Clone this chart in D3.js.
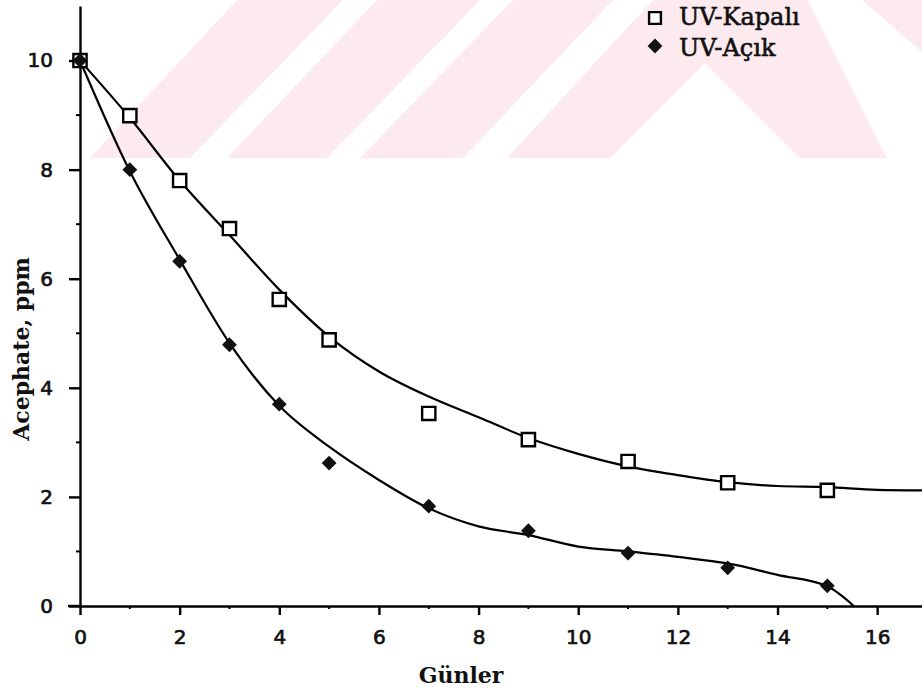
<!DOCTYPE html>
<html>
<head>
<meta charset="utf-8">
<script src="https://cdn.jsdelivr.net/npm/d3@7"></script>
<style>
  html, body { margin: 0; padding: 0; background: #fff; }
  svg { display: block; }
</style>
</head>
<body>
<div id="chart"></div>
<script>
// Measured points (days, ppm)
const days = [0, 1, 2, 3, 4, 5, 7, 9, 11, 13, 15];
const kapaliPts = [10, 8.99, 7.8, 6.92, 5.62, 4.88, 3.53, 3.05, 2.65, 2.26, 2.12];
const acikPts   = [10, 8.0, 6.32, 4.79, 3.70, 2.62, 1.83, 1.38, 0.97, 0.70, 0.37];

// Fitted curves
const kapaliFitX = [0, 1, 2, 3, 4, 5, 6, 7, 8, 9, 10, 11, 12, 13, 14, 15, 16, 17];
const kapaliFitY = [10, 8.95, 7.8, 6.8, 5.8, 4.94, 4.3, 3.84, 3.46, 3.08, 2.79, 2.56, 2.4, 2.27, 2.2, 2.18, 2.13, 2.12];
const acikFitX = [0, 1, 2, 3, 4, 5, 6, 7, 8, 9, 10, 11, 12, 13, 14, 15, 15.53];
const acikFitY = [10, 7.97, 6.35, 4.82, 3.67, 2.92, 2.31, 1.79, 1.46, 1.3, 1.09, 1.0, 0.9, 0.78, 0.57, 0.36, 0];

const xTicks = [0, 2, 4, 6, 8, 10, 12, 14, 16];
const xMinor = [1, 3, 5, 7, 9, 11, 13, 15];
const yTicks = [0, 2, 4, 6, 8, 10];
const yMinor = [1, 3, 5, 7, 9];
const legendLabels = ['UV-Kapalı', 'UV-Açık'];

const W = 922, H = 692;
const svg = d3.select('#chart').append('svg').attr('width', W).attr('height', H);

// faded watermark behind the plot (clipped band at the top)
const pink = '#fdeaee';
const marks = [
  [[90, 158], [190, 158], [343, 0], [237, 0]],
  [[227, 158], [327, 158], [480, 0], [377, 0]],
  [[360, 158], [463, 158], [613, 0], [513, 0]],
  [[507, 158], [653, 0], [808, 0], [887, 158], [800, 158], [705, 63], [610, 158]],
  [[862, 0], [922, 0], [922, 52]]
];
svg.append('g').selectAll('polygon').data(marks).join('polygon')
  .attr('points', (d) => d.map((p) => p.join(',')).join(' '))
  .attr('fill', pink);

const x = d3.scaleLinear().domain([0, 16.9]).range([80, 922]);
const y = d3.scaleLinear().domain([0, 11]).range([606, 6]);

const tickFont = "'DejaVu Sans', sans-serif";
const ink = '#111';

function styleAxis(g) {
  g.select('.domain').attr('stroke', '#000').attr('stroke-width', 2.4);
  g.selectAll('.tick line').attr('stroke', '#000').attr('stroke-width', 2.4);
  g.selectAll('text').attr('font-family', tickFont).attr('font-size', 20)
    .attr('fill', ink).attr('stroke', ink).attr('stroke-width', 0.7);
}

// y axis
svg.append('g').attr('transform', `translate(${x(0)},0)`)
  .call(d3.axisLeft(y).tickValues(yTicks).tickSize(11).tickPadding(16).tickSizeOuter(0))
  .call(styleAxis);
svg.append('g').selectAll('line').data(yMinor).join('line')
  .attr('x1', x(0) - 4).attr('x2', x(0)).attr('y1', (d) => y(d)).attr('y2', (d) => y(d))
  .attr('stroke', '#000').attr('stroke-width', 2);

// x axis
svg.append('g').attr('transform', `translate(0,${y(0)})`)
  .call(d3.axisBottom(x).tickValues(xTicks).tickSize(9).tickPadding(15).tickSizeOuter(0))
  .call(styleAxis);
svg.append('line').attr('x1', x(0) - 12).attr('x2', x(0)).attr('y1', y(0)).attr('y2', y(0))
  .attr('stroke', '#000').attr('stroke-width', 2.4);
svg.append('g').selectAll('line').data(xMinor).join('line')
  .attr('x1', (d) => x(d)).attr('x2', (d) => x(d)).attr('y1', y(0)).attr('y2', y(0) + 3)
  .attr('stroke', '#000').attr('stroke-width', 2);

// axis titles
const titleFont = "'DejaVu Serif', serif";
svg.append('text').attr('x', 461).attr('y', 683).attr('text-anchor', 'middle')
  .attr('font-family', titleFont).attr('font-weight', 'bold').attr('font-size', 22)
  .attr('fill', ink).text('Günler');
svg.append('text').attr('transform', 'translate(29,349) rotate(-90)').attr('text-anchor', 'middle')
  .attr('font-family', titleFont).attr('font-weight', 'bold').attr('font-size', 22)
  .attr('fill', ink).text('Acephate, ppm');

// fitted curves
const line = d3.line().x((d) => x(d[0])).y((d) => y(d[1])).curve(d3.curveMonotoneX);
svg.append('path').datum(d3.zip(kapaliFitX, kapaliFitY))
  .attr('d', line).attr('fill', 'none').attr('stroke', '#000').attr('stroke-width', 2.2);
svg.append('path').datum(d3.zip(acikFitX, acikFitY))
  .attr('d', line).attr('fill', 'none').attr('stroke', '#000').attr('stroke-width', 2.2);

// markers
const square = d3.symbol(d3.symbolSquare, 175);
const diamond = d3.symbol(d3.symbolSquare, 110);
svg.append('g').selectAll('path').data(d3.zip(days, kapaliPts)).join('path')
  .attr('d', square).attr('transform', (d) => `translate(${x(d[0])},${y(d[1])})`)
  .attr('fill', '#fff').attr('stroke', '#000').attr('stroke-width', 2.4);
svg.append('g').selectAll('path').data(d3.zip(days, acikPts)).join('path')
  .attr('d', diamond).attr('transform', (d) => `translate(${x(d[0])},${y(d[1])}) rotate(45)`)
  .attr('fill', ink);

// legend
const leg = svg.append('g');
leg.append('path').attr('d', d3.symbol(d3.symbolSquare, 140))
  .attr('transform', 'translate(655,18)')
  .attr('fill', '#fff').attr('stroke', '#000').attr('stroke-width', 2.4);
leg.append('path').attr('d', d3.symbol(d3.symbolSquare, 110))
  .attr('transform', 'translate(655,46) rotate(45)').attr('fill', ink);
leg.selectAll('text').data(legendLabels).join('text')
  .attr('x', 679).attr('y', (d, i) => 25 + i * 31)
  .attr('font-family', titleFont).attr('font-size', 24)
  .attr('fill', ink).attr('stroke', ink).attr('stroke-width', 0.6)
  .text((d) => d);
</script>
</body>
</html>
